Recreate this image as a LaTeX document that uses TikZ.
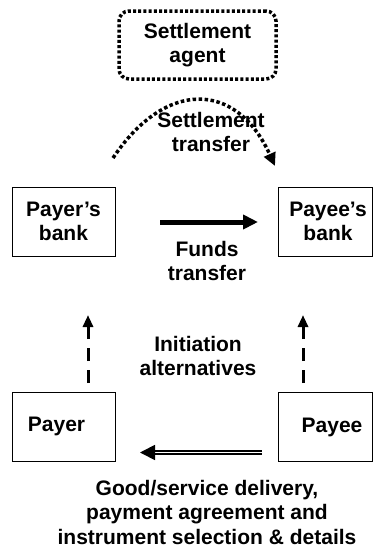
\documentclass[tikz,border=0pt]{standalone}
\usepackage{fontspec}
\setmainfont{Liberation Sans}
\usetikzlibrary{arrows.meta}
\begin{document}
\begin{tikzpicture}[x=1pt,y=-1pt,
  every node/.style={font=\fontsize{21}{24}\selectfont\bfseries, align=center, inner sep=0pt},
  box/.style={draw, line width=0.8pt, minimum width=103pt, minimum height=69pt},
  agentbox/.style={draw, line width=3.5pt, dash pattern=on 3pt off 2.2pt, rounded corners=10pt, minimum width=157pt, minimum height=68pt},
  settlearrow/.style={line width=3.5pt, dash pattern=on 3.5pt off 2.5pt, -{Triangle[length=13pt,width=12pt]}},
  fundsarrow/.style={line width=5pt, -{Triangle[length=15pt,width=14pt]}},
  initarrow/.style={line width=3pt, dash pattern=on 13pt off 9pt, -{Triangle[length=12pt,width=10pt]}},
  goodsarrow/.style={double, line width=1.8pt, double distance=1.4pt, -{Triangle[length=15pt,width=15pt]}}
]
\useasboundingbox (0,0) rectangle (374,549);

\node[agentbox] (agent) at (197.5,45) {Settlement\\agent};

\node[box] (payerbank) at (63.5,221.5) {Payer’s\\bank};
\node[box, minimum width=94pt] (payeebank) at (325,221.5) {};
\node (payeebanktext) at ([xshift=3pt]payeebank.center) {Payee’s\\bank};
\node[box] (payer) at (63.5,426.5) {};
\node (payertext) at ([xshift=-7pt]payer.center) {Payer};
\node[box, minimum width=94pt] (payee) at (325,427) {};
\node (payeetext) at ([xshift=7pt]payee.center) {Payee};

% settlement transfer
\coordinate (s1) at (113,158);
\coordinate (s2) at (275,166);
\node (stext) at (211,132) {Settlement\\transfer};
\draw[settlearrow] (s1) .. controls (165,80) and (236,80) .. (s2);

% funds transfer
\coordinate (f1) at (160,222);
\coordinate (f2) at (258,222);
\draw[fundsarrow] (f1) -- (f2);
\node (ftext) at (207,261) {Funds\\transfer};

% initiation
\coordinate (i1a) at (88,383);
\coordinate (i1b) at (88,315);
\coordinate (i2a) at (303,383);
\coordinate (i2b) at (303,315);
\draw[initarrow] (i1a) -- (i1b);
\draw[initarrow] (i2a) -- (i2b);
\node (itext) at (198,356) {Initiation\\alternatives};

% goods
\coordinate (g1) at (262,452.5);
\coordinate (g2) at (140,452.5);
\draw[goodsarrow] (g1) -- (g2);
\node[font=\fontsize{21}{24.5}\selectfont\bfseries] (gtext) at (207,512) {Good/service delivery,\\payment agreement and\\instrument selection \& details};
\end{tikzpicture}
\end{document}
